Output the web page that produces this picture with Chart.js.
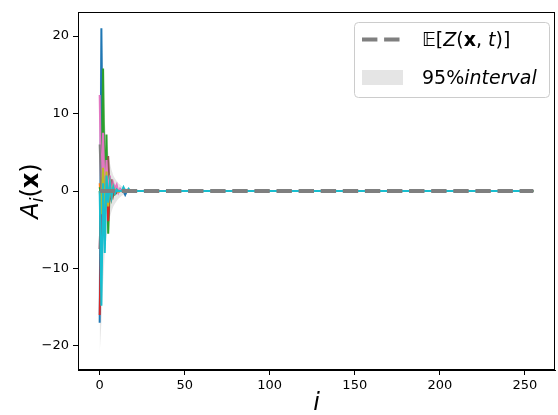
<!DOCTYPE html>
<html>
<head>
<meta charset="utf-8">
<script src="https://cdn.jsdelivr.net/npm/chart.js@4.4.1/dist/chart.umd.min.js"></script>
<style>
  html, body { margin: 0; padding: 0; background: #fff; }
  #wrap { width: 558px; height: 415px; }
</style>
</head>
<body>
<div id="wrap"><canvas id="myChart" width="558" height="415"></canvas></div>
<script>
const N = 256;
const idx = Array.from({ length: N }, (_, i) => i);
const xTicks = [0, 50, 100, 150, 200, 250];
const yTicks = [-20, -10, 0, 10, 20];

// leading values of each A_i(x) curve, the rest sit at 0
const blueHead   = [-17, 21, -3, 2, -1.5, 1, -0.8, 0.5, -0.3, 0.2, -0.1, 0, 0, 0, 0, -0.5, 0];
const orangeHead = [1, -2.5, 3, -2, 1.5, -1.5, 1, -0.6, 0.4, -0.3, 0.2, -0.1, 0];
const greenHead  = [0.5, -1, 15.8, -2, 7.3, -5.5, 1, -0.8, 0.5, -0.3, 0.2, -0.1, 0];
const redHead    = [-16, -3, 2, -1, 1.5, -3.9, 0.8, -0.5, 0.3, -0.2, 0.1, 0];
const purpleHead = [-7.5, 2, -1.5, 1, -1, 0.5, -0.3, 0.2, -0.1, 0];
const brownHead  = [-7.5, 2, -1, 1.5, -0.5, 4.5, -1, 1.5, -0.5, 0.4, -0.2, 0.1, 0];
const pinkHead   = [12.4, -2, 7.5, -1, 4, -0.5, 2, -0.5, 1, 0.3, 0.8, -0.2, 0.3, 0];
const grayHead   = [6, -1, 2, -1, 1, -0.5, 0.3, -0.2, 0];
const oliveHead  = [0, -3, 3, -3.5, 2.5, -2, 1, -0.6, 0.5, -0.2, 0.2, -0.1, 0];
const cyanHead   = [0, -14.8, 1, -8, 2, -1.5, 1, -0.7, 0.5, -0.3, 0.2, 0, 0, 0, 0.5, 0, 0, 0.3, 0];

// 95% band
const upperHead = [14, 21, 16, 9, 6.5, 5, 3.6, 2.7, 2, 1.6, 1.3, 1, 0.8, 0.6, 0.5, 0.4, 0.3, 0.25, 0.2, 0.15, 0.1, 0.05, 0];
const lowerHead = [-21, -17, -12, -8, -6, -4.5, -3.4, -2.6, -2, -1.6, -1.3, -1, -0.8, -0.6, -0.5, -0.4, -0.3, -0.25, -0.2, -0.15, -0.1, -0.05, 0];

const expected = idx.map(() => 0);

function pad(head) {
  return head.concat(new Array(N - head.length).fill(0));
}

const series = [
  { head: blueHead, color: "#1f77b4" },
  { head: orangeHead, color: "#ff7f0e" },
  { head: greenHead, color: "#2ca02c" },
  { head: redHead, color: "#d62728" },
  { head: purpleHead, color: "#9467bd" },
  { head: brownHead, color: "#8c564b" },
  { head: pinkHead, color: "#e377c2" },
  { head: grayHead, color: "#7f7f7f" },
  { head: oliveHead, color: "#bcbd22" },
  { head: cyanHead, color: "#17becf" },
];

const datasets = [];

// expectation on top
datasets.push({
  label: "E",
  data: expected,
  borderColor: "#7f7f7f",
  borderWidth: 4,
  borderDash: [15.4, 6.7],
  pointRadius: 0,
  fill: false,
  order: 0,
});

// curves, last one (cyan) drawn on top like matplotlib
series.forEach((s, i) => {
  datasets.push({
    label: "A" + i,
    data: pad(s.head),
    borderColor: s.color,
    borderWidth: 2,
    pointRadius: 0,
    fill: false,
    order: 20 - i,
  });
});

datasets.push({
  label: "upper",
  data: pad(upperHead),
  borderWidth: 0,
  borderColor: "rgba(0,0,0,0)",
  backgroundColor: "rgba(127,127,127,0.2)",
  pointRadius: 0,
  fill: "+1",
  order: 50,
});
datasets.push({
  label: "lower",
  data: pad(lowerHead),
  borderWidth: 0,
  borderColor: "rgba(0,0,0,0)",
  pointRadius: 0,
  fill: false,
  order: 51,
});

const FONT = "'DejaVu Sans', sans-serif";

function drawSegments(ctx, segs, x, y) {
  // segs: [text, font, dy]
  let cx = x;
  segs.forEach(([t, f, dy]) => {
    ctx.font = f;
    ctx.fillText(t, cx, y + (dy || 0));
    cx += ctx.measureText(t).width;
  });
  return cx - x;
}

function segWidth(ctx, segs) {
  let w = 0;
  segs.forEach(([t, f]) => {
    ctx.font = f;
    w += ctx.measureText(t).width;
  });
  return w;
}

const decorations = {
  id: "decorations",
  afterDraw(chart) {
    const ctx = chart.ctx;
    const a = chart.chartArea;
    ctx.save();

    // frame
    ctx.strokeStyle = "#000";
    ctx.lineWidth = 1;
    ctx.strokeRect(a.left + 0.5, a.top + 0.5, a.right - a.left - 1, a.bottom - a.top - 1);

    // legend box
    const bx = 354, by = 22, bw = 195, bh = 75, r = 4;
    ctx.fillStyle = "rgba(255,255,255,0.8)";
    ctx.strokeStyle = "#cccccc";
    ctx.lineWidth = 1;
    ctx.beginPath();
    ctx.roundRect(bx + 0.5, by + 0.5, bw, bh, r);
    ctx.fill();
    ctx.stroke();

    // dashed sample
    ctx.strokeStyle = "#7f7f7f";
    ctx.lineWidth = 4;
    ctx.setLineDash([15.4, 6.7]);
    ctx.beginPath();
    ctx.moveTo(362, 39.5);
    ctx.lineTo(402, 39.5);
    ctx.stroke();
    ctx.setLineDash([]);

    // band sample
    ctx.fillStyle = "rgba(127,127,127,0.2)";
    ctx.fillRect(362, 70, 41, 15);

    ctx.fillStyle = "#000";
    ctx.textBaseline = "alphabetic";
    const fs = 19;
    const n = fs + "px " + FONT;
    const it = "italic " + fs + "px " + FONT;
    const b = "bold " + fs + "px " + FONT;
    drawSegments(ctx, [["\u{1D53C}", n], ["[", n], ["Z", it], ["(", n], ["x", b], [", ", n], ["t", it], [")]", n]], 422, 46);
    drawSegments(ctx, [["95%", n], ["interval", it]], 422, 84);

    // y axis title
    const ys = 24;
    const ySegs = [["A", "italic " + ys + "px " + FONT, 0], ["i", "italic " + Math.round(ys * 0.7) + "px " + FONT, 5], ["(", ys + "px " + FONT, 0], ["x", "bold " + ys + "px " + FONT, 0], [")", ys + "px " + FONT, 0]];
    const yw = segWidth(ctx, ySegs);
    ctx.translate(38, (a.top + a.bottom) / 2);
    ctx.rotate(-Math.PI / 2);
    drawSegments(ctx, ySegs, -yw / 2, 0);
    ctx.setTransform(1, 0, 0, 1, 0, 0);

    // x axis title
    ctx.font = "italic 24px " + FONT;
    ctx.textAlign = "center";
    ctx.fillText("i", (a.left + a.right) / 2, 410);

    ctx.restore();
  },
};

const config = {
  type: "line",
  data: { labels: idx, datasets: datasets },
  options: {
    responsive: false,
    animation: false,
    layout: { padding: { top: 12, right: 3, left: 0, bottom: 0 } },
    plugins: {
      legend: { display: false },
      tooltip: { enabled: false },
    },
    elements: { line: { tension: 0 } },
    scales: {
      x: {
        type: "linear",
        min: -12.75,
        max: 267.75,
        afterBuildTicks: (scale) => { scale.ticks = xTicks.map(v => ({ value: v })); },
        afterFit: (scale) => { scale.height = 45; },
        grid: { drawOnChartArea: false, tickLength: 5, color: "#000", tickWidth: 1 },
        border: { display: true, color: "#000", width: 1 },
        ticks: { color: "#000", font: { family: FONT, size: 13 }, padding: 3, maxRotation: 0, autoSkip: false },
      },
      y: {
        min: -23.1,
        max: 23.1,
        afterBuildTicks: (scale) => { scale.ticks = yTicks.map(v => ({ value: v })); },
        afterFit: (scale) => { scale.width = 78; },
        grid: { drawOnChartArea: false, tickLength: 5, color: "#000", tickWidth: 1 },
        border: { display: true, color: "#000", width: 1 },
        ticks: {
          color: "#000",
          font: { family: FONT, size: 13 },
          padding: 4,
          callback: (v) => (v < 0 ? "\u2212" + Math.abs(v) : String(v)),
        },
      },
    },
  },
  plugins: [decorations],
};

const myChart = new Chart(document.getElementById("myChart"), config);
</script>
</body>
</html>
